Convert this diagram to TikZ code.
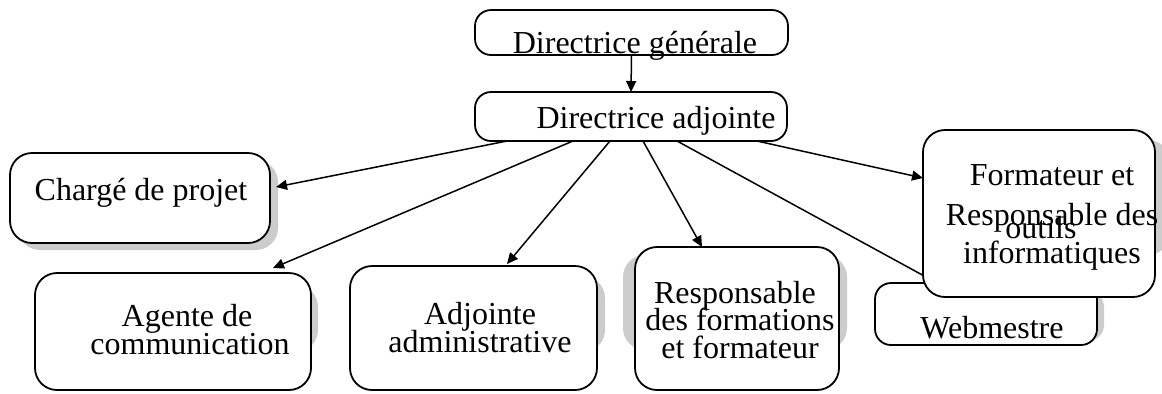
\documentclass[tikz,border=0pt]{standalone}
\usepackage{fontspec}
\setmainfont{Liberation Serif}
\usetikzlibrary{arrows.meta,calc}

\tikzset{
  box/.style={draw, line width=0.9pt, rounded corners=11pt, fill=white,
    inner sep=0pt, outer sep=0pt},
  thinbox/.style={box, rounded corners=8pt},
  shade/.style={fill=black!20, rounded corners=11pt},
  lbl/.style={anchor=base, inner sep=0pt, font=\fontsize{16pt}{16pt}\selectfont},
  link/.style={line width=0.75pt, -{Triangle[length=5.5pt,width=5pt]}}
}

\begin{document}
\begin{tikzpicture}[x=0.5pt, y=-0.5pt]
\useasboundingbox (0,0) rectangle (1162,393);

% drop shadows
\fill[shade] (18,160) rectangle (278,250);
\fill[shade] (45,285) rectangle (318,352);
\fill[shade] (360,276) rectangle (605,352);
\fill[shade] (623,255) rectangle (847,350);
\fill[shade, rounded corners=8pt] (885,291) rectangle (1104,341);

% boxes
\node[thinbox, minimum width=156.5pt, minimum height=22.5pt] (dg) at (631.5,32.5) {};
\node[thinbox, minimum width=156pt, minimum height=24.5pt] (da) at (631,116.5) {};
\node[box, minimum width=130pt, minimum height=45pt] (cp) at (140,198) {};
\node[box, minimum width=138pt, minimum height=58.5pt] (ag) at (173,331.5) {};
\node[box, minimum width=123.5pt, minimum height=62pt] (aa) at (473.5,328) {};
\node[box, minimum width=102pt, minimum height=71.5pt] (rf) at (737,318.5) {};
\node[thinbox, minimum width=111pt, minimum height=31pt] (wb) at (986,314) {};

% labels
\node[lbl] (tdg) at (635,53) {Directrice générale};
\node[lbl] (tda) at (656,128) {Directrice adjointe};
\node[lbl] (tcp) at (141,200) {Chargé de projet};
\node[lbl] (tag1) at (187,326) {Agente de};
\node[lbl] (tag2) at (190,354) {communication};
\node[lbl] (taa1) at (480,324) {Adjointe};
\node[lbl] (taa2) at (480,352) {administrative};
\node[lbl] (trf1) at (735,303) {Responsable};
\node[lbl] (trf2) at (740,330) {des formations};
\node[lbl] (trf3) at (740,358) {et formateur};
\node[lbl] (twb) at (992,338) {Webmestre};

% connectors
\draw[link] (dg.south) -- (da.north);
\draw[link] ($(da.south west)+(32,0)$) -- ($(cp.east)+(6,-11)$);
\draw[link] ($(da.south west)+(98,0)$) -- ($(ag.north)+(100,-5)$);
\draw[link] ($(da.south west)+(135,0)$) -- ($(aa.north)+(33.5,-2)$);
\draw[link] ($(da.south west)+(168,0)$) -- ($(rf.north)+(-35,0)$);
\draw[link] ($(da.south west)+(202,0)$) -- ($(wb.north west)+(62,0)$);

% box in front, with its shadow
\fill[shade] (933,140) rectangle (1170,255);
\node[box, minimum width=116pt, minimum height=83.5pt] (fr) at (1039,213.5) {};
\draw[link] ($(da.south west)+(282,0)$) -- ($(fr.west)+(0,-35.5)$);
\node[lbl] (tfr1) at (1052,185) {Formateur et};
\node[lbl] (tfr2) at (1052,225) {Responsable des};
\node[lbl] (tfr3) at (1041,238) {outils};
\node[lbl] (tfr4) at (1052,263) {informatiques};
\end{tikzpicture}
\end{document}
